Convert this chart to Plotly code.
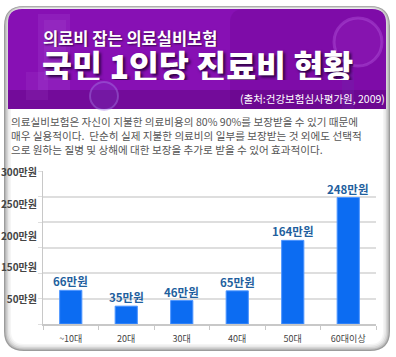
import plotly.graph_objects as go

# ---- data ----
categories = ["~10대", "20대", "30대", "40대", "50대", "60대이상"]
values = [66, 35, 46, 65, 164, 248]
unit = "만원"
y_tick_labels = ["50만원", "150만원", "200만원", "250만원", "300만원"]
header_sub = "의료비 잡는 의료실비보험"
header_title = "국민 1인당 진료비 현황"
source = "(출처:건강보험심사평가원, 2009)"
para_lines = [
    "의료실비보험은 자신이 지불한 의료비용의 80% 90%를 보장받을 수 있기 때문에",
    "매우 실용적이다.  단순히 실제 지불한 의료비의 일부를 보장받는 것 외에도 선택적",
    "으로 원하는 질병 및 상해에 대한 보장을 추가로 받을 수 있어 효과적이다.",
]

W, H = 396, 357
L, R, T, B = 43, 20, 171, 33
PW, PH = W - L - R, H - T - B
FONT = "Noto Sans CJK KR"


def px(x):
    return (x - L) / PW


def py(y):
    return (H - B - y) / PH


def rrect(x0, y0, x1, y1, r, bottom_round=True):
    rb = r if bottom_round else 0
    pts = []
    pts.append(f"M {px(x0 + r)},{py(y0)}")
    pts.append(f"L {px(x1 - r)},{py(y0)}")
    pts.append(f"Q {px(x1)},{py(y0)} {px(x1)},{py(y0 + r)}")
    pts.append(f"L {px(x1)},{py(y1 - rb)}")
    if rb:
        pts.append(f"Q {px(x1)},{py(y1)} {px(x1 - rb)},{py(y1)}")
    pts.append(f"L {px(x0 + rb)},{py(y1)}")
    if rb:
        pts.append(f"Q {px(x0)},{py(y1)} {px(x0)},{py(y1 - rb)}")
    pts.append(f"L {px(x0)},{py(y0 + r)}")
    pts.append(f"Q {px(x0)},{py(y0)} {px(x0 + r)},{py(y0)}")
    pts.append("Z")
    return " ".join(pts)


shapes = []
# frame layers
frame = [(0, "#9c9c9c"), (1.2, "#bdbdbd"), (2.5, "#d6d6d6"), (4, "#e8e8e8"), (5.5, "#f5f5f5"), (7, "#ffffff")]
for d, c in frame:
    shapes.append(dict(type="path", xref="paper", yref="paper", layer="below",
                       path=rrect(4 + d, 6 + d * 0.5, 390 - d, 351 - d, max(20 - d, 6)),
                       fillcolor=c, line=dict(width=0)))
# header
shapes.append(dict(type="path", xref="paper", yref="paper", layer="below",
                   path=rrect(8, 9, 386, 109, 14, bottom_round=False),
                   fillcolor="#8710b4", line=dict(width=0)))
# darker right part
shapes.append(dict(type="path", xref="paper", yref="paper", layer="below",
                   path=rrect(230, 9, 386, 109, 14, bottom_round=False),
                   fillcolor="rgba(90,0,120,0.2)", line=dict(width=0)))
# bottom band
shapes.append(dict(type="rect", xref="paper", yref="paper", layer="below",
                   x0=px(8), x1=px(386), y0=py(109), y1=py(90),
                   fillcolor="rgba(70,0,95,0.3)", line=dict(width=0)))
# subtle decorations
for (x0, y0, x1, y1, c) in [(38, 14, 70, 90, "rgba(200,120,235,0.12)"),
                            (44, 20, 66, 80, "rgba(220,160,245,0.08)"),
                            (26, 72, 48, 100, "rgba(200,120,235,0.10)")]:
    shapes.append(dict(type="rect", xref="paper", yref="paper", layer="below",
                       x0=px(x0), x1=px(x1), y0=py(y1), y1=py(y0), fillcolor=c, line=dict(width=0)))
shapes.append(dict(type="circle", xref="paper", yref="paper", layer="below",
                   x0=px(334), x1=px(382), y0=py(66), y1=py(18),
                   fillcolor="rgba(170,60,210,0.18)", line=dict(color="rgba(190,100,230,0.35)", width=3)))
shapes.append(dict(type="circle", xref="paper", yref="paper", layer="below",
                   x0=px(90), x1=px(118), y0=py(110), y1=py(82),
                   fillcolor="rgba(120,80,200,0.2)", line=dict(color="rgba(170,130,235,0.4)", width=2)))
shapes.append(dict(type="rect", xref="paper", yref="paper", layer="below",
                   x0=px(342), x1=px(354), y0=py(109), y1=py(72),
                   fillcolor="rgba(110,40,170,0.3)", line=dict(width=0)))

annotations = [
    dict(text=f"<b>{header_sub}</b>", x=px(41), y=py(38), xref="paper", yref="paper",
         xanchor="left", yanchor="middle", showarrow=False, height=18,
         font=dict(family=FONT, size=16.5, color="white", shadow="1px 1px 2px #3a0050")),
    dict(text=header_title, x=px(40), y=py(64), xref="paper", yref="paper",
         xanchor="left", yanchor="middle", showarrow=False, height=32,
         font=dict(family=FONT, size=32.5, color="white", weight=900, shadow="2px 2px 3px #2a0040")),
    dict(text=source, x=px(387), y=py(99), xref="paper", yref="paper",
         xanchor="right", yanchor="middle", showarrow=False,
         font=dict(family=FONT, size=10.5, color="white")),
    dict(text="<br>".join(para_lines), x=px(9), y=py(135), xref="paper", yref="paper",
         xanchor="left", yanchor="middle", align="left", showarrow=False,
         font=dict(family=FONT, size=10.6, color="#555555")),
]
# value labels above bars (positioned by data coordinates)
for c, v in zip(categories, values):
    annotations.append(dict(text=f"<b>{v}{unit}</b>", x=c, y=v, xref="x", yref="y",
                            yanchor="middle", yshift=9, showarrow=False,
                            font=dict(family=FONT, size=11.5, color="#1f5f9e")))

fig = go.Figure()
fig.add_trace(go.Bar(
    x=categories, y=values,
    marker=dict(color="#0c6cf2", line=dict(color="#4d95ff", width=1)),
    hoverinfo="skip",
))
# invisible trace to host label axis
fig.add_trace(go.Scatter(x=[categories[0]], y=[0], yaxis="y2", mode="markers",
                         marker=dict(opacity=0), hoverinfo="skip", showlegend=False))

fig.update_layout(
    width=W, height=H,
    margin=dict(l=L, r=R, t=T, b=B, autoexpand=False),
    paper_bgcolor="white", plot_bgcolor="rgba(0,0,0,0)",
    showlegend=False, bargap=0.6,
    shapes=shapes, annotations=annotations,
    xaxis=dict(showgrid=False, showline=True, linecolor="#c8c8c8", linewidth=1.5, automargin=False,
               ticks="outside", tickson="boundaries", ticklen=4, tickcolor="#c8c8c8",
               ticklabelstandoff=5,
               tickfont=dict(family=FONT, size=9, color="#444444"), fixedrange=True),
    yaxis=dict(range=[0, 300], tickvals=[0, 50, 100, 150, 200, 250, 300], showticklabels=False,
               showgrid=True, gridcolor="#dedede", gridwidth=1.5, zeroline=False, automargin=False,
               showline=True, linecolor="#c8c8c8", linewidth=1,
               ticks="outside", ticklen=4, tickcolor="#dedede", fixedrange=True),
    yaxis2=dict(overlaying="y", side="left", range=[-0.78, 4.054], automargin=False,
                tickvals=list(range(len(y_tick_labels))), ticktext=y_tick_labels,
                showgrid=False, zeroline=False, showline=False, ticks="", ticklabelstandoff=5,
                tickfont=dict(family=FONT, size=10, color="#444444", weight="bold"), fixedrange=True),
)
fig.write_html("out.html", config={"displayModeBar": False},
               post_script="document.body.style.margin='0';")
